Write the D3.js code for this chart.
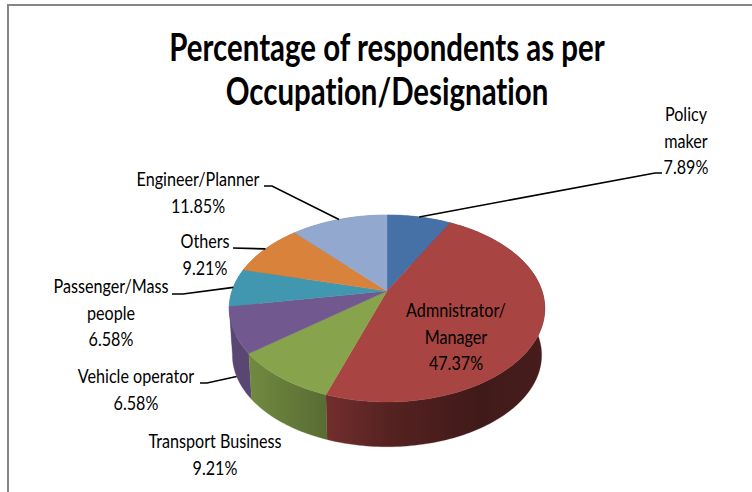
<!DOCTYPE html>
<html><head><meta charset="utf-8">
<script src="https://cdn.jsdelivr.net/npm/d3@7"></script>
<style>html,body{margin:0;padding:0;background:#fff}svg{display:block}text{font-family:Lato,"Open Sans",sans-serif;fill:#000;font-variant-ligatures:none}</style>
</head><body><svg id="c" width="752" height="492"></svg>
<script>
const categories = ["Policy maker","Administrator/Manager","Transport Business","Vehicle operator","Passenger/Mass people","Others","Engineer/Planner"];
const sliceValues = [7.89,47.37,9.21,7.89,6.58,9.21,11.85];
const valueLabels = ["7.89%","47.37%","9.21%","6.58%","6.58%","9.21%","11.85%"];
const labelLines = [["Policy","maker"],["Admnistrator/","Manager"],["Transport Business"],["Vehicle operator"],["Passenger/Mass","people"],["Others"],["Engineer/Planner"]];
const topColors = ["#4671a6","#a84442","#87a44d","#71588f","#4197af","#d9823b","#92a8cf"];
const titleLines = ["Percentage of respondents as per","Occupation/Designation"];

const labelPos = [[686,121],[456,317],[215,448],[136,383],[111,293],[205,248],[198,186]];
const elbows = [[[662,173],[655,173]],null,null,[[200,383],[207,383]],[[172,294],[183,294]],[[233,248]],[[264,186],[272,186]]];
const onWall = [false,false,false,true,false,false,false];

const svg = d3.select("#c");
const g = {x0:387,y0:291,A:155,B:90.2,k:0.187,depth:47,s:0.98};
function project(a,level){
  const u=Math.sin(a),v=-Math.cos(a),w=1/(1-g.k*v);
  let X=g.A*u*w,Y=g.B*v*w;
  if(level){X*=g.s;Y=Y*g.s+g.depth;}
  return [g.x0+X,g.y0+Y];
}
const arcs = d3.pie().sort(null).value(d=>d)(sliceValues);
const samples = d=>{const n=Math.max(4,Math.ceil((d.endAngle-d.startAngle)/0.02));return d3.range(n+1).map(i=>d.startAngle+(d.endAngle-d.startAngle)*i/n);};
const line = d3.line();
const defs = svg.append("defs");

svg.append("path").attr("d","M8,492V5H752").attr("fill","none").attr("stroke","#868686").attr("stroke-width",2);

const order = arcs.map((d,i)=>i).sort((a,b)=>{
  const m=d=>-Math.cos((d.startAngle+d.endAngle)/2);
  return m(arcs[a])-m(arcs[b]);});
order.forEach(i=>{
  const d=arcs[i],as=samples(d),base=d3.color(topColors[i]);
  const top=as.map(a=>project(a,0)),bot=as.map(a=>project(a,1)).reverse();
  const xs=top.map(p=>p[0]);
  const x1=d3.min(xs),x2=d3.max(xs);
  const id="w"+i;
  const gr=defs.append("linearGradient").attr("id",id).attr("gradientUnits","userSpaceOnUse")
    .attr("x1",x1).attr("x2",x2).attr("y1",0).attr("y2",0);
  const stops = i===1 ? [[0,0.68],[0.3,0.5],[0.7,0.38],[1,0.42]] : i===2 ? [[0,0.84],[1,0.66]] : [[0,0.8],[1,0.8]];
  stops.forEach(s=>gr.append("stop").attr("offset",s[0])
    .attr("stop-color",d3.rgb(base.r*s[1],base.g*s[1],base.b*s[1]).formatHex()));
  svg.append("path").attr("d",line(top.concat(bot))+"Z").attr("fill",`url(#${id})`).attr("stroke",`url(#${id})`).attr("stroke-width",0.3);
});
arcs.forEach((d,i)=>{
  const pts=[[g.x0,g.y0]].concat(samples(d).map(a=>project(a,0)));
  svg.append("path").attr("d",line(pts)+"Z").attr("fill",topColors[i]).attr("stroke",topColors[i]).attr("stroke-width",0.4);
});
arcs.forEach((d,i)=>{
  if(!elbows[i])return;
  const p=project((d.startAngle+d.endAngle)/2,onWall[i]?1:0);
  svg.append("path").attr("d",line(elbows[i].concat([p]))).attr("fill","none").attr("stroke","#000").attr("stroke-width",1.6);
});
function put(t,x,y,size,weight,sx){
  svg.append("text").attr("transform",`translate(${x},${y}) scale(${sx},1)`)
    .attr("text-anchor","middle").attr("font-size",size).attr("font-weight",weight).text(t);
}
titleLines.forEach((t,i)=>put(t,387,[61,105][i],38,700,0.775));
labelLines.forEach((ls,i)=>{
  ls.concat(valueLabels[i]).forEach((t,j)=>put(t,labelPos[i][0],labelPos[i][1]+j*26.7,19,400,0.85));
});
</script></body></html>
